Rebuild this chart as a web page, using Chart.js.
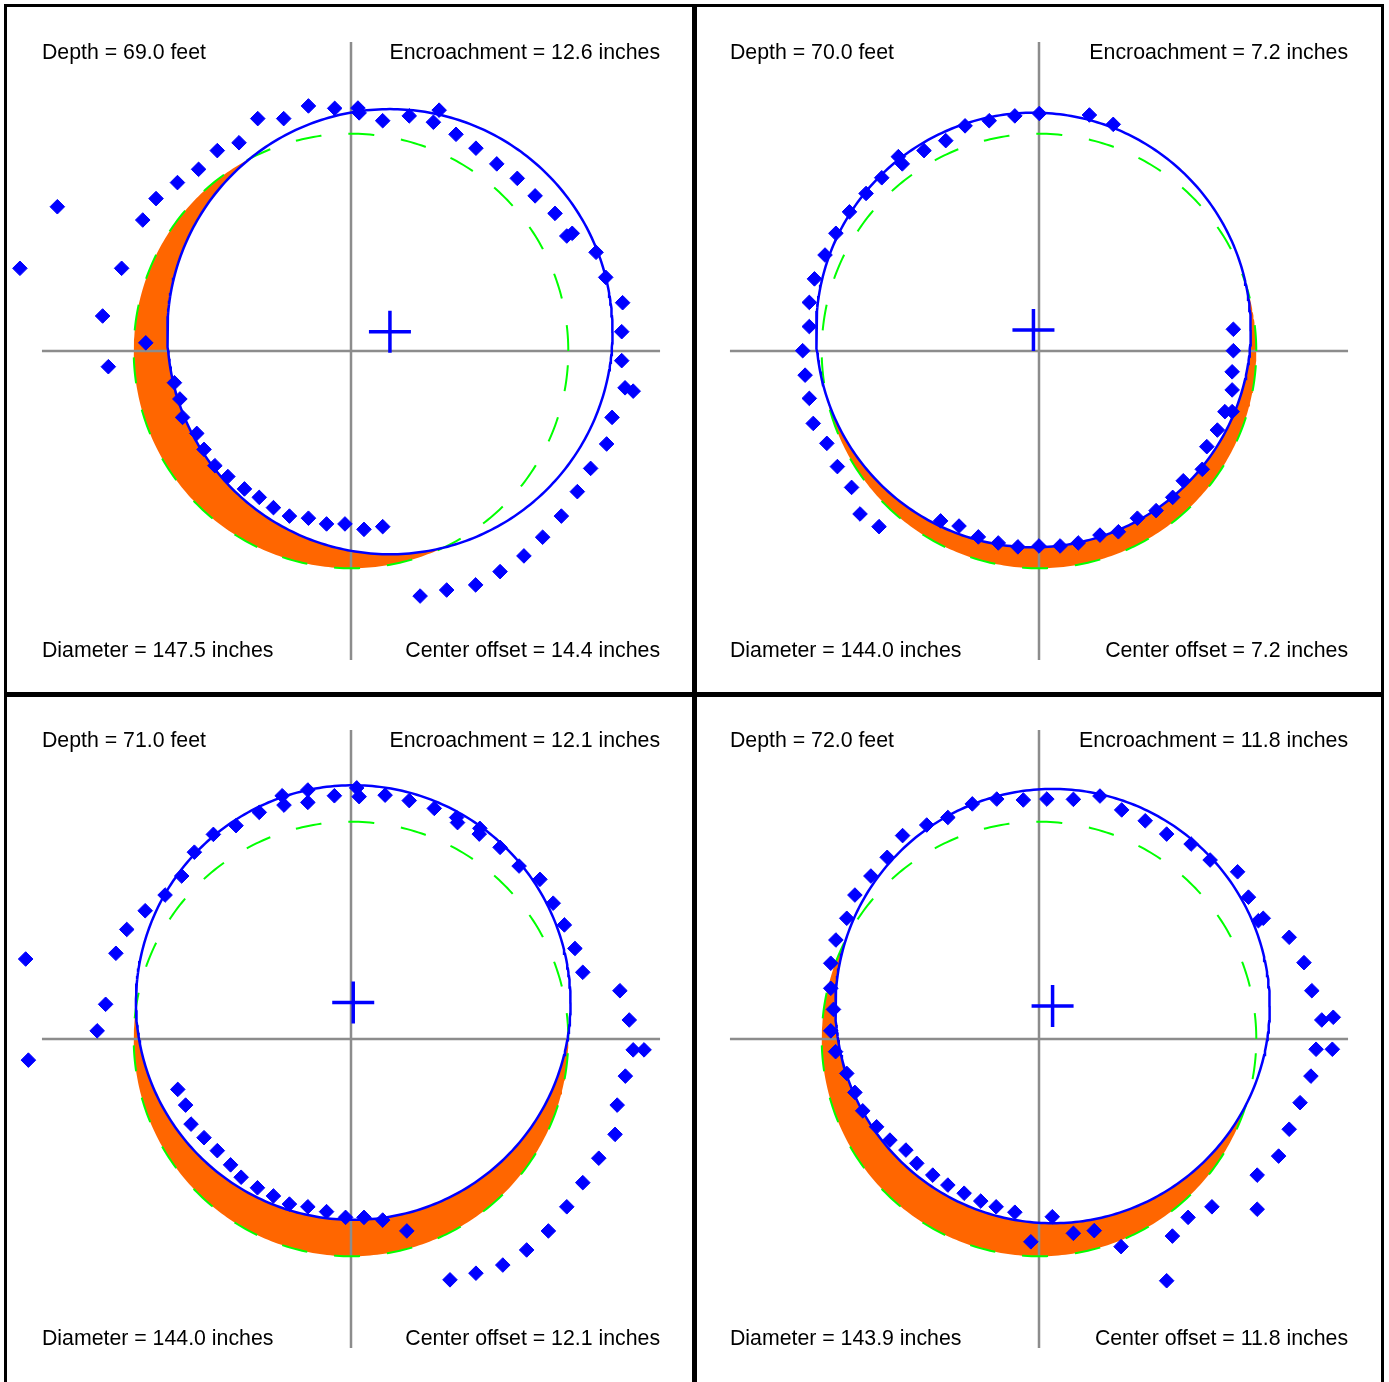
<!DOCTYPE html>
<html lang="en">
<head>
  <meta charset="UTF-8">
  <title>Tunnel profile scans</title>
  <script src="https://cdn.jsdelivr.net/npm/chart.js"></script>
  <style>
    body { margin: 0; padding: 0; background: #fff; overflow: hidden; }
    canvas { position: absolute; }
    .rule { position: absolute; background: #000; }
  </style>
</head>
<body>
  <canvas id="p0" width="688" height="688" style="left:4px;top:4px"></canvas>
  <canvas id="p1" width="688" height="688" style="left:692px;top:4px"></canvas>
  <canvas id="p2" width="688" height="688" style="left:4px;top:692px"></canvas>
  <canvas id="p3" width="688" height="688" style="left:692px;top:692px"></canvas>
  <div class="rule" style="left:4px;top:4px;width:3px;height:1382px"></div>
  <div class="rule" style="left:692px;top:4px;width:5px;height:1382px"></div>
  <div class="rule" style="left:1381px;top:4px;width:3px;height:1382px"></div>
  <div class="rule" style="left:4px;top:4px;width:1380px;height:3px"></div>
  <div class="rule" style="left:4px;top:692px;width:1380px;height:5px"></div>

  <script>
// one panel per depth
const depths = [69.0, 70.0, 71.0, 72.0];
const diameters = [147.5, 144.0, 144.0, 143.9];
const encroachments = [12.6, 7.2, 12.1, 11.8];
const centerOffsets = [14.4, 7.2, 12.1, 11.8];
const centerX = [12.9, -1.84, 0.74, 4.5];   // fitted circle centre, inches
const centerY = [6.4, 6.96, 12.08, 10.9];
const nominalDiameter = 144;

// measured points (inches), one list per depth
const scan69 = [[-109.7,27.4],[-97.3,47.8],[-76.0,27.4],[-82.3,11.6],[-80.4,-5.2],[-68.0,2.7],[-69.0,43.4],[-64.6,50.5],
  [-57.5,55.8],[-50.5,60.2],[-44.3,66.4],[-37.1,69.0],[-30.9,77.0],[-22.3,77.0],[-14.1,81.2],[-5.4,80.4],[2.3,80.5],
  [2.7,78.9],[10.5,76.3],[19.3,77.9],[29.2,79.8],[27.3,75.8],[34.8,71.8],[41.4,67.2],[48.3,62.0],[55.1,57.2],[61.0,51.4],
  [67.6,45.6],[71.5,38.1],[73.3,39.0],[81.2,32.7],[84.4,24.4],[90.0,16.0],[89.7,6.4],[89.7,-3.2],[90.8,-12.2],[93.5,-13.3],
  [86.5,-22.0],[84.7,-30.8],[79.4,-38.9],[75.0,-46.6],[69.7,-54.7],[63.5,-61.7],[57.3,-67.9],[49.4,-73.1],[41.3,-77.5],
  [31.7,-79.2],[22.9,-81.2],[-58.5,-10.5],[-56.7,-15.9],[-55.8,-22.0],[-51.1,-27.3],[-48.7,-32.6],[-45.1,-38.0],
  [-40.8,-41.6],[-35.3,-45.7],[-30.4,-48.5],[-25.7,-51.9],[-20.4,-54.7],[-14.1,-55.4],[-8.1,-57.3],[-2.0,-57.3],
  [4.3,-59.1],[10.5,-58.2]];
const scan70 = [[0.1,78.7],[-8.0,77.9],[-16.5,76.3],[-24.5,74.6],[-30.9,69.7],[-38.1,66.4],[-46.6,64.4],[-45.3,62.0],
  [-52.1,57.4],[-57.3,52.2],[-62.8,46.1],[-67.3,39.0],[-70.9,31.8],[-74.4,23.9],[-76.1,16.1],[-76.1,8.1],[-78.3,0.1],
  [-77.5,-8.0],[-76.1,-15.7],[-74.8,-24.0],[-70.3,-30.6],[-66.8,-38.3],[-62.1,-45.2],[-59.3,-54.0],[-53.0,-58.2],
  [-32.6,-56.3],[-26.5,-58.0],[-20.1,-61.6],[-13.5,-63.6],[-7.0,-64.9],[0.0,-64.6],[7.0,-64.6],[13.0,-63.6],[20.2,-61.0],
  [26.3,-59.9],[32.6,-55.4],[38.8,-52.9],[44.3,-48.5],[47.8,-43.0],[54.1,-39.2],[55.6,-31.7],[59.1,-26.2],[61.6,-20.1],
  [64.0,-20.1],[64.0,-12.9],[64.0,-6.9],[64.4,0.1],[64.4,7.2],[16.7,78.2],[24.6,75.1]];
const scan71 = [[-107.8,26.5],[-106.9,-7.0],[-84.1,2.7],[-81.3,11.5],[-77.9,28.4],[-74.3,36.3],[-68.2,42.5],[-61.6,47.7],
  [-56.1,54.0],[-51.9,61.9],[-45.6,67.8],[-38.1,70.7],[-30.4,75.1],[-22.8,80.6],[-22.2,77.5],[-14.3,82.5],[-14.3,78.4],
  [-5.5,80.6],[1.9,83.2],[2.7,80.3],[11.3,80.8],[19.3,79.0],[27.6,76.4],[35.0,73.4],[35.3,71.7],[42.7,69.8],[42.5,67.9],
  [49.4,63.5],[55.7,57.3],[62.6,52.9],[67.0,45.0],[70.7,37.8],[74.2,30.0],[76.8,22.1],[89.1,16.0],[92.2,6.3],[93.5,-3.6],
  [97.1,-3.6],[90.9,-12.3],[88.2,-21.9],[87.5,-31.6],[82.1,-39.5],[76.8,-47.6],[71.5,-55.6],[65.4,-63.6],[58.2,-69.9],
  [50.3,-74.9],[41.4,-77.6],[32.8,-79.8],[-57.4,-16.7],[-54.8,-21.9],[-53.0,-28.2],[-48.7,-32.7],[-44.3,-37.0],
  [-39.9,-41.7],[-36.4,-45.8],[-31.0,-49.3],[-25.7,-52.0],[-20.4,-54.7],[-14.3,-55.6],[-8.1,-57.2],[-1.8,-59.1],
  [4.3,-59.1],[10.5,-60.0],[18.5,-63.6]];
const scan72 = [[2.6,79.5],[-5.2,79.2],[-14.0,79.5],[-22.1,77.9],[-30.2,73.4],[-37.2,70.9],[-45.2,67.4],[-50.3,60.2],
  [-55.7,54.0],[-61.0,47.7],[-63.7,40.0],[-67.3,32.8],[-69.0,25.1],[-69.0,16.8],[-68.1,9.8],[-69.0,2.7],[-67.4,-4.2],
  [-63.7,-11.4],[-61.0,-17.7],[-58.4,-23.8],[-53.8,-29.1],[-49.4,-33.5],[-44.1,-36.8],[-40.5,-41.2],[-35.2,-45.1],
  [-30.2,-48.4],[-24.8,-51.1],[-19.3,-53.7],[-14.2,-55.6],[-8.0,-57.4],[-2.7,-67.2],[4.4,-58.9],[11.4,-64.4],[18.3,-63.5],
  [27.2,-68.8],[42.3,-80.1],[44.2,-65.3],[49.4,-59.1],[57.3,-55.6],[72.3,-56.4],[72.3,-45.1],[79.4,-38.8],[82.9,-29.9],
  [86.5,-21.1],[90.1,-12.3],[91.8,-3.4],[97.2,-3.4],[93.7,6.3],[97.5,7.2],[90.4,16.0],[87.8,25.3],[82.9,33.7],[74.3,40.0],
  [72.7,39.2],[69.4,47.0],[65.8,55.4],[56.7,59.3],[50.4,64.6],[42.3,67.9],[35.2,72.3],[27.4,75.9],[20.2,80.5],[11.4,79.4]];
const scans = [scan69, scan70, scan71, scan72];

const BLUE = '#0000ff', GREEN = '#00ff00', ORANGE = '#ff6600', GRAY = '#8c8c8c';
const PX = 3.018;        // pixels per inch
const AXIS = 102.4;      // half length of the crosshair, inches

function circle(cx, cy, r) {
  const pts = [];
  for (let i = 0; i <= 360; i++) {
    const t = i * Math.PI / 180;
    pts.push({x: cx + r * Math.cos(t), y: cy + r * Math.sin(t)});
  }
  return pts;
}

// part of the nominal circle not covered by the fitted circle
function crescent(cx, cy, R, r) {
  const d = Math.hypot(cx, cy), phi = Math.atan2(cy, cx);
  const k = (r * r + d * d - R * R) / (2 * r * d);
  const a = Math.acos(Math.max(-1, Math.min(1, k)));
  const n = 200, pts = [];
  for (let i = 0; i <= n; i++) {
    const t = phi + a + (2 * Math.PI - 2 * a) * i / n;
    pts.push({x: r * Math.cos(t), y: r * Math.sin(t)});
  }
  const norm = v => ((v % (2 * Math.PI)) + 2 * Math.PI) % (2 * Math.PI);
  const p1 = pts[0], p2 = pts[n];
  const a1 = norm(Math.atan2(p1.y - cy, p1.x - cx) - phi);
  const a2 = norm(Math.atan2(p2.y - cy, p2.x - cx) - phi);
  for (let i = 0; i <= n; i++) {
    const s = phi + a2 + (a1 - a2) * i / n;
    pts.push({x: cx + R * Math.cos(s), y: cy + R * Math.sin(s)});
  }
  return pts;
}

const labelPlugin = {
  id: 'labels',
  afterDraw(chart, args, opts) {
    const ctx = chart.ctx, x = chart.scales.x, y = chart.scales.y;
    const left = x.getPixelForValue(-AXIS), right = x.getPixelForValue(AXIS);
    const top = y.getPixelForValue(AXIS), bottom = y.getPixelForValue(-AXIS);
    ctx.save();
    ctx.font = '21.3px "Liberation Sans", Arial, sans-serif';
    ctx.fillStyle = '#000';
    ctx.textBaseline = 'alphabetic';
    ctx.textAlign = 'left';
    ctx.fillText(opts.tl, left, top + 17);
    ctx.fillText(opts.bl, left, bottom - 3);
    ctx.textAlign = 'right';
    ctx.fillText(opts.tr, right, top + 17);
    ctx.fillText(opts.br, right, bottom - 3);
    ctx.restore();
  }
};

depths.forEach(function(depth, i) {
  const R = diameters[i] / 2, r = nominalDiameter / 2;
  new Chart(document.getElementById('p' + i), {
    type: 'line',
    data: {
      datasets: [
        { data: [{x: centerX[i], y: centerY[i]}], showLine: false, pointStyle: 'cross',
          pointRadius: 21, borderWidth: 3.5, borderColor: BLUE, clip: false },
        { data: scans[i].map(p => ({x: p[0], y: p[1]})), showLine: false, pointStyle: 'rectRot',
          pointRadius: 7.3, borderWidth: 1, borderColor: BLUE, backgroundColor: BLUE, clip: false },
        { data: circle(centerX[i], centerY[i], R), borderColor: BLUE, borderWidth: 2.5, pointRadius: 0, fill: false },
        { data: circle(0, 0, r), borderColor: GREEN, borderWidth: 2, borderDash: [26, 27], pointRadius: 0, fill: false },
        { data: [{x: -AXIS, y: 0}, {x: AXIS, y: 0}], borderColor: GRAY, borderWidth: 2.5, pointRadius: 0, fill: false },
        { data: [{x: 0, y: -AXIS}, {x: 0, y: AXIS}], borderColor: GRAY, borderWidth: 2.5, pointRadius: 0, fill: false },
        { data: crescent(centerX[i], centerY[i], R, r), borderWidth: 0, borderColor: ORANGE,
          backgroundColor: ORANGE, pointRadius: 0, fill: 'shape' }
      ]
    },
    options: {
      responsive: false,
      animation: false,
      events: [],
      layout: { padding: 0, autoPadding: false },
      elements: { line: { tension: 0 } },
      scales: {
        x: { type: 'linear', min: -347 / PX, max: 341 / PX, display: false },
        y: { type: 'linear', min: -341 / PX, max: 347 / PX, display: false }
      },
      plugins: {
        legend: { display: false },
        tooltip: { enabled: false },
        labels: {
          tl: 'Depth = ' + depth.toFixed(1) + ' feet',
          tr: 'Encroachment = ' + encroachments[i].toFixed(1) + ' inches',
          bl: 'Diameter = ' + diameters[i].toFixed(1) + ' inches',
          br: 'Center offset = ' + centerOffsets[i].toFixed(1) + ' inches'
        }
      }
    },
    plugins: [labelPlugin]
  });
});
</script>
</body>
</html>
